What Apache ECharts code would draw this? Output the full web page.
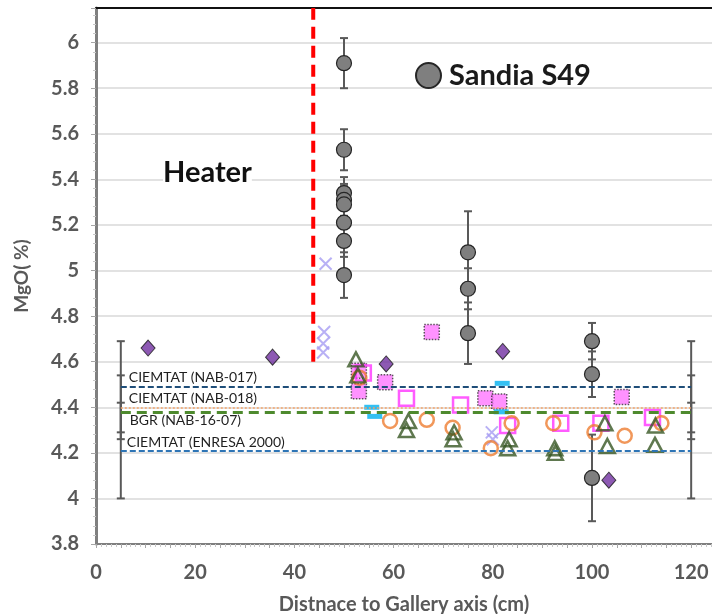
<!DOCTYPE html>
<html>
<head>
<meta charset="utf-8">
<script src="https://cdn.jsdelivr.net/npm/echarts@6/dist/echarts.min.js"></script>
<style>
  html, body { margin: 0; padding: 0; background: #fff; }
  #chart { width: 712px; height: 614px; }
</style>
</head>
<body>
<div id="chart"></div>
<script>
  // Sandia S49 (grey circles with error bars)
  const sandiaX = [50, 50, 50, 50, 50, 50, 50, 50, 75, 75, 75, 100, 100, 100]
  const sandiaY = [5.91, 5.53, 5.34, 5.31, 5.29, 5.21, 5.13, 4.98, 5.08, 4.92, 4.725, 4.69, 4.545, 4.09]
  const sandiaErr = [0.11, 0.09, 0.07, 0.07, 0.08, 0.08, 0.07, 0.10, 0.18, 0.09, 0.135, 0.08, 0.10, 0.19]

  // other sample sets
  const diamondX = [10.5, 35.6, 58.5, 82, 103.4]
  const diamondY = [4.66, 4.62, 4.59, 4.645, 4.08]
  const crossX = [46.3, 46, 45.8, 45.8, 79.8, 80]
  const crossY = [5.03, 4.73, 4.68, 4.64, 4.29, 4.26]
  const filledSqX = [53, 53, 58.3, 67.7, 78.5, 81.3, 106]
  const filledSqY = [4.56, 4.47, 4.51, 4.73, 4.44, 4.425, 4.445]
  const openSqX = [53.9, 62.6, 73.5, 83, 93.7, 101.8, 112.2]
  const openSqY = [4.55, 4.44, 4.41, 4.32, 4.33, 4.33, 4.355]
  const ringX = [53.1, 59.3, 66.7, 71.9, 79.6, 83.8, 92.2, 100.5, 106.6, 114]
  const ringY = [4.53, 4.34, 4.345, 4.31, 4.22, 4.33, 4.33, 4.29, 4.275, 4.33]
  const triX = [52.4, 52.8, 63, 62.6, 72.2, 72, 83.3, 83, 92.5, 92.6, 102.6, 103.1, 112.8, 112.7]
  const triY = [4.61, 4.54, 4.34, 4.30, 4.29, 4.26, 4.26, 4.22, 4.22, 4.20, 4.33, 4.23, 4.32, 4.235]
  const dashX = [55.6, 56.2, 81.9, 81.7]
  const dashY = [4.40, 4.36, 4.505, 4.38]

  // reference values
  const refNames = ['CIEMTAT (NAB-017)', 'CIEMTAT (NAB-018)', 'BGR (NAB-16-07)', 'CIEMTAT (ENRESA 2000)']
  const refValues = [4.49, 4.40, 4.38, 4.21]
  const refErr = [0.20, 0.14, 0, 0.21]
  const refFrom = 5
  const refTo = 120

  // heater boundary
  const heaterX = 43.8
  const heaterFrom = 4.6

  const xMin = 0, xMax = 124.2, yMin = 3.8, yMax = 6.152

  const FONT = 'Lato'

  let zip = (xs, ys) => xs.map((x, i) => [x, ys[i]])

  function errorBars(data, color) {
    return {
      type: 'custom',
      silent: true,
      z: 2,
      encode: { x: 0, y: 1 },
      renderItem: (params, api) => {
        let x = api.value(0), y = api.value(1), e = api.value(2)
        let top = api.coord([x, y + e])
        let bot = api.coord([x, y - e])
        let hw = 4
        let style = { stroke: color, lineWidth: 2 }
        return {
          type: 'group',
          children: [
            { type: 'line', shape: { x1: top[0], y1: top[1], x2: bot[0], y2: bot[1] }, style },
            { type: 'line', shape: { x1: top[0] - hw, y1: top[1], x2: top[0] + hw, y2: top[1] }, style },
            { type: 'line', shape: { x1: bot[0] - hw, y1: bot[1], x2: bot[0] + hw, y2: bot[1] }, style }
          ]
        }
      },
      data: data
    }
  }

  let refStyles = [
    { color: '#1F4E79', width: 2, type: [6, 3], pos: 'insideStartTop', dist: [8, 2] },
    { color: '#F4A46A', width: 1.5, type: [2, 2], pos: 'insideStartTop', dist: [8, 2] },
    { color: '#4E8A2E', width: 3, type: [10, 6], pos: 'insideStartBottom', dist: [9, 2] },
    { color: '#2E75B6', width: 2, type: [6, 3], pos: 'insideStartTop', dist: [6, 1] }
  ]

  let refSeries = refNames.map((name, i) => {
    let s = refStyles[i]
    return {
      name: name,
      type: 'line',
      data: [],
      z: 1,
      markLine: {
        silent: true,
        symbol: 'none',
        animation: false,
        lineStyle: { color: s.color, width: s.width, type: s.type },
        label: {
          show: true,
          position: s.pos,
          distance: s.dist,
          formatter: name,
          fontFamily: FONT,
          fontSize: 14,
          color: '#1f1f1f'
        },
        data: [[{ coord: [refFrom, refValues[i]] }, { coord: [refTo, refValues[i]] }]]
      }
    }
  })

  let refErrData = []
  refValues.forEach((v, i) => {
    if (refErr[i] > 0) {
      refErrData.push([refFrom, v, refErr[i]])
      refErrData.push([refTo, v, refErr[i]])
    }
  })

  let el = document.getElementById('chart')
  let myChart = echarts.init(el)

  let options = {
    animation: false,
    textStyle: { fontFamily: FONT },
    grid: { left: 96, right: 0, top: 8, bottom: 70, outerBoundsMode: 'none' },
    legend: {
      data: ['Sandia S49'],
      left: 410,
      top: 56,
      itemWidth: 25,
      itemHeight: 25,
      icon: 'circle',
      selectedMode: false,
      textStyle: { fontFamily: FONT, fontSize: 29, fontWeight: 'bold', color: '#1a1a1a', padding: [0, 0, 0, 3] }
    },
    graphic: [
      {
        type: 'text',
        left: 163,
        top: 158,
        z: 10,
        style: { text: 'Heater', fontFamily: FONT, fontSize: 29, fontWeight: 'bold', fill: '#111', backgroundColor: '#fff' }
      }
    ],
    xAxis: [
      {
        type: 'value',
        min: xMin,
        max: xMax,
        interval: 5,
        name: 'Distnace to Gallery axis (cm)',
        nameLocation: 'middle',
        nameGap: 51,
        nameTextStyle: { fontFamily: FONT, fontSize: 20, fontWeight: 'bold', color: '#595959' },
        axisLine: { show: true, lineStyle: { color: '#7f7f7f', width: 2 } },
        axisTick: { show: true, length: 4, lineStyle: { color: '#a6a6a6' } },
        minorTick: { show: true, splitNumber: 5, length: 3, lineStyle: { color: '#c8c8c8' } },
        splitLine: { show: false },
        axisLabel: {
          margin: 19,
          fontFamily: FONT,
          fontSize: 20,
          fontWeight: 'bold',
          color: '#595959',
          formatter: v => (Math.abs(v % 20) < 1e-6 && v <= 120 ? String(v) : '')
        }
      },
      {
        type: 'value',
        position: 'top',
        min: xMin,
        max: xMax,
        axisLine: { show: true, onZero: false, lineStyle: { color: '#111', width: 2 } },
        axisTick: { show: false },
        axisLabel: { show: false },
        splitLine: { show: false }
      }
    ],
    yAxis: {
      type: 'value',
      min: yMin,
      max: yMax,
      interval: 0.2,
      name: 'MgO( %)',
      nameLocation: 'middle',
      nameGap: 65,
      nameTextStyle: { fontFamily: FONT, fontSize: 19, fontWeight: 'bold', color: '#595959' },
      axisLine: { show: true, lineStyle: { color: '#7f7f7f', width: 3 } },
      axisTick: { show: true, length: 5, lineStyle: { color: '#a6a6a6' } },
      minorTick: { show: true, splitNumber: 5, length: 3, lineStyle: { color: '#c8c8c8' } },
      splitLine: { show: true, lineStyle: { color: '#d9d9d9', width: 1.5 } },
      axisLabel: {
        margin: 17,
        fontFamily: FONT,
        fontSize: 20,
        fontWeight: 'bold',
        color: '#595959',
        showMaxLabel: false,
        formatter: v => {
          let r = Math.round(v * 5) / 5
          return Math.abs(v - r) < 1e-6 ? String(+r.toFixed(1)) : ''
        }
      }
    },
    series: [
      ...refSeries,
      errorBars(refErrData, '#595959'),
      {
        name: 'Heater',
        type: 'line',
        symbol: 'none',
        z: 3,
        lineStyle: { color: '#FF0000', width: 4, type: [12, 7] },
        data: [[heaterX, heaterFrom], [heaterX, yMax]]
      },
      errorBars(zip(sandiaX, sandiaY).map((p, i) => [p[0], p[1], sandiaErr[i]]), '#595959'),
      {
        name: 'Sandia S49',
        type: 'scatter',
        z: 5,
        symbol: 'circle',
        symbolSize: 15,
        itemStyle: { color: '#7f7f7f', borderColor: '#262626', borderWidth: 1.2, opacity: 1 },
        data: zip(sandiaX, sandiaY)
      },
      {
        name: 'diamonds',
        type: 'scatter',
        z: 4,
        symbol: 'diamond',
        symbolSize: [14, 16],
        itemStyle: { color: '#7030A0', borderColor: '#1a1a1a', borderWidth: 1 },
        data: zip(diamondX, diamondY)
      },
      {
        name: 'crosses',
        type: 'scatter',
        z: 4,
        symbol: 'path://M0,0L10,10M10,0L0,10',
        symbolSize: 12,
        itemStyle: { color: 'rgba(0,0,0,0)', borderColor: '#A69CF2', borderWidth: 2 },
        data: zip(crossX, crossY)
      },
      {
        name: 'filled squares',
        type: 'scatter',
        z: 4,
        symbol: 'rect',
        symbolSize: 15,
        itemStyle: { color: '#FF77FF', borderColor: '#333', borderWidth: 1.5, borderType: 'dotted' },
        data: zip(filledSqX, filledSqY)
      },
      {
        name: 'open squares',
        type: 'scatter',
        z: 4,
        symbol: 'rect',
        symbolSize: 15,
        itemStyle: { color: 'rgba(255,255,255,0)', borderColor: '#FF33FF', borderWidth: 2.5 },
        data: zip(openSqX, openSqY)
      },
      {
        name: 'rings',
        type: 'scatter',
        z: 4,
        symbol: 'circle',
        symbolSize: 14,
        itemStyle: { color: 'rgba(255,255,255,0)', borderColor: '#ED7D31', borderWidth: 2.5 },
        data: zip(ringX, ringY)
      },
      {
        name: 'triangles',
        type: 'scatter',
        z: 4,
        symbol: 'triangle',
        symbolSize: [15, 14],
        itemStyle: { color: 'rgba(255,255,255,0)', borderColor: '#375623', borderWidth: 2.5 },
        data: zip(triX, triY)
      },
      {
        name: 'dashes',
        type: 'scatter',
        z: 4,
        symbol: 'rect',
        symbolSize: [15, 5],
        itemStyle: { color: '#00B0F0' },
        data: zip(dashX, dashY)
      }
    ]
  }

  myChart.setOption(options)
  window.addEventListener('resize', () => myChart.resize())
</script>
</body>
</html>
